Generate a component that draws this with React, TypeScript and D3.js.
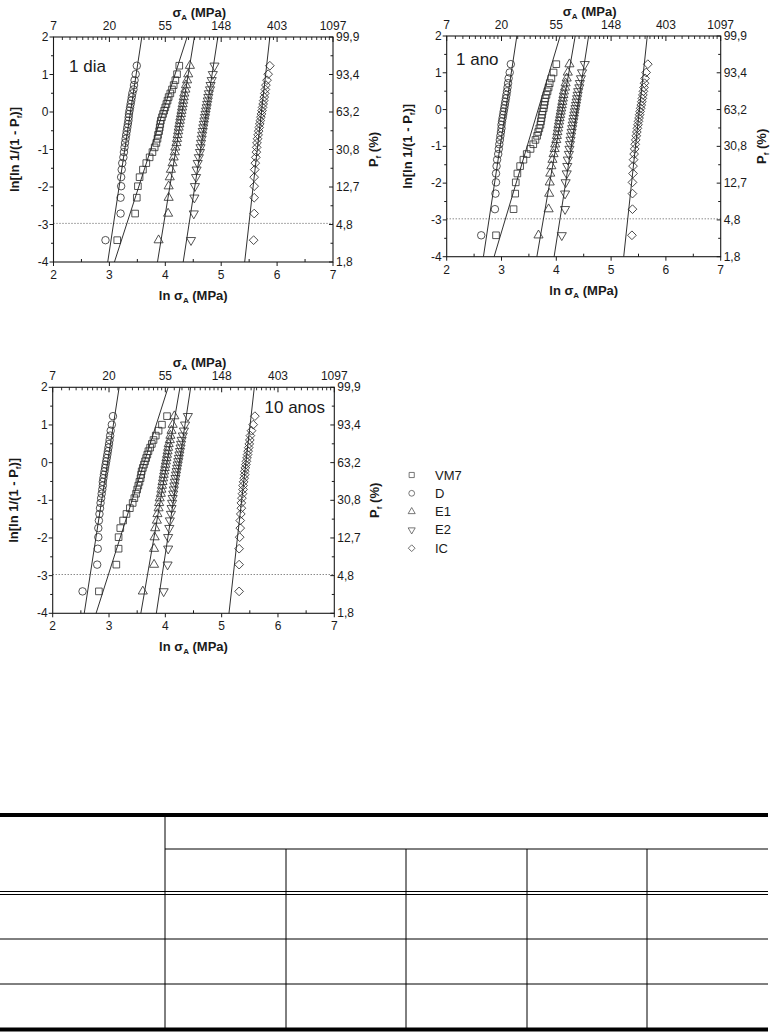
import React from 'react';
import * as d3 from 'd3';

// Weibull rank ordinates ln[ln 1/(1-Pf)] for the 30 specimens of each group
const Y_RANK = [-3.418, -2.708, -2.285, -1.979, -1.738, -1.537, -1.363, -1.209, -1.070, -0.943,
  -0.825, -0.714, -0.610, -0.510, -0.413, -0.320, -0.230, -0.140, -0.052, 0.035,
  0.123, 0.213, 0.304, 0.398, 0.496, 0.601, 0.717, 0.848, 1.008, 1.234];

const SERIES = ['VM7', 'D', 'E1', 'E2', 'IC'];
const X_TICKS = [2, 3, 4, 5, 6, 7];
const Y_TICKS = [-4, -3, -2, -1, 0, 1, 2];
const SIGMA_LABELS = ['7', '20', '55', '148', '403', '1097'];
const PF_LABELS = ['1,8', '4,8', '12,7', '30,8', '63,2', '93,4', '99,9'];
const THRESHOLD_Y = -2.97;

// ---- 1 dia : ln(sigma_A) per specimen
const DIA_VM7 = [3.14, 3.46, 3.49, 3.51, 3.54, 3.60, 3.66, 3.72, 3.77, 3.81, 3.84, 3.86, 3.87, 3.89, 3.90, 3.91, 3.92, 3.94, 3.96, 3.98, 4.00, 4.02, 4.04, 4.06, 4.09, 4.12, 4.15, 4.18, 4.21, 4.25];
const DIA_D = [2.93, 3.20, 3.20, 3.21, 3.21, 3.22, 3.23, 3.25, 3.26, 3.27, 3.28, 3.29, 3.30, 3.31, 3.32, 3.33, 3.34, 3.345, 3.35, 3.36, 3.37, 3.38, 3.39, 3.40, 3.41, 3.43, 3.44, 3.45, 3.47, 3.49];
const DIA_E1 = [3.88, 4.05, 4.06, 4.06, 4.08, 4.10, 4.13, 4.15, 4.17, 4.18, 4.20, 4.21, 4.22, 4.23, 4.24, 4.25, 4.26, 4.27, 4.28, 4.29, 4.30, 4.31, 4.32, 4.33, 4.34, 4.36, 4.37, 4.39, 4.41, 4.44];
const DIA_E2 = [4.46, 4.51, 4.52, 4.53, 4.55, 4.56, 4.58, 4.60, 4.62, 4.63, 4.64, 4.65, 4.66, 4.67, 4.68, 4.69, 4.70, 4.71, 4.72, 4.73, 4.74, 4.75, 4.76, 4.77, 4.78, 4.80, 4.81, 4.83, 4.85, 4.88];
const DIA_IC = [5.58, 5.59, 5.59, 5.59, 5.59, 5.60, 5.61, 5.62, 5.63, 5.635, 5.64, 5.65, 5.66, 5.67, 5.68, 5.69, 5.70, 5.71, 5.72, 5.73, 5.74, 5.75, 5.76, 5.77, 5.78, 5.79, 5.80, 5.82, 5.84, 5.87];
// fitted lines: ln(sigma) at y=-4 and at y=2
const DIA_LINES = [[3.09, 4.39], [2.97, 3.58], [3.86, 4.52], [4.32, 4.94], [5.42, 5.87]];

// ---- 1 ano
const ANO_VM7 = [2.90, 3.22, 3.25, 3.26, 3.29, 3.34, 3.40, 3.46, 3.53, 3.58, 3.62, 3.65, 3.67, 3.69, 3.71, 3.72, 3.73, 3.74, 3.75, 3.77, 3.78, 3.79, 3.80, 3.82, 3.84, 3.86, 3.88, 3.91, 3.95, 4.00];
const ANO_D = [2.63, 2.88, 2.89, 2.90, 2.90, 2.91, 2.92, 2.94, 2.95, 2.96, 2.97, 2.98, 2.99, 3.00, 3.00, 3.01, 3.02, 3.03, 3.04, 3.05, 3.06, 3.07, 3.08, 3.09, 3.10, 3.11, 3.12, 3.13, 3.15, 3.17];
const ANO_E1 = [3.675, 3.86, 3.87, 3.88, 3.89, 3.91, 3.93, 3.95, 3.97, 3.98, 4.00, 4.01, 4.02, 4.03, 4.04, 4.05, 4.06, 4.07, 4.08, 4.09, 4.10, 4.11, 4.12, 4.13, 4.14, 4.16, 4.17, 4.19, 4.21, 4.24];
const ANO_E2 = [4.10, 4.16, 4.16, 4.17, 4.19, 4.20, 4.21, 4.23, 4.24, 4.25, 4.26, 4.27, 4.28, 4.29, 4.30, 4.31, 4.32, 4.33, 4.34, 4.35, 4.36, 4.37, 4.38, 4.39, 4.40, 4.42, 4.43, 4.45, 4.47, 4.52];
const ANO_IC = [5.38, 5.39, 5.39, 5.39, 5.40, 5.40, 5.41, 5.42, 5.43, 5.44, 5.45, 5.46, 5.47, 5.48, 5.49, 5.50, 5.51, 5.52, 5.53, 5.54, 5.55, 5.56, 5.57, 5.58, 5.59, 5.60, 5.61, 5.62, 5.64, 5.67];
const ANO_LINES = [[2.865, 4.07], [2.67, 3.28], [3.645, 4.345], [3.96, 4.59], [5.23, 5.66]];

// ---- 10 anos
const ANOS10_VM7 = [2.82, 3.13, 3.17, 3.17, 3.20, 3.25, 3.31, 3.37, 3.42, 3.45, 3.48, 3.50, 3.52, 3.54, 3.56, 3.57, 3.58, 3.60, 3.62, 3.64, 3.66, 3.68, 3.70, 3.73, 3.76, 3.79, 3.83, 3.88, 3.94, 4.03];
const ANOS10_D = [2.53, 2.79, 2.80, 2.81, 2.81, 2.82, 2.83, 2.84, 2.85, 2.86, 2.87, 2.88, 2.89, 2.89, 2.90, 2.91, 2.92, 2.93, 2.94, 2.95, 2.96, 2.97, 2.98, 2.99, 3.00, 3.01, 3.02, 3.03, 3.05, 3.07];
const ANOS10_E1 = [3.60, 3.80, 3.80, 3.81, 3.82, 3.85, 3.86, 3.88, 3.89, 3.90, 3.92, 3.93, 3.94, 3.95, 3.96, 3.97, 3.98, 3.99, 4.00, 4.01, 4.02, 4.03, 4.04, 4.05, 4.06, 4.08, 4.09, 4.11, 4.13, 4.16];
const ANOS10_E2 = [3.97, 4.04, 4.05, 4.05, 4.07, 4.08, 4.10, 4.11, 4.12, 4.13, 4.14, 4.15, 4.16, 4.17, 4.18, 4.19, 4.20, 4.21, 4.22, 4.23, 4.24, 4.25, 4.26, 4.27, 4.28, 4.29, 4.31, 4.33, 4.35, 4.40];
const ANOS10_IC = [5.31, 5.31, 5.31, 5.32, 5.33, 5.33, 5.34, 5.35, 5.35, 5.36, 5.37, 5.38, 5.38, 5.39, 5.40, 5.41, 5.41, 5.42, 5.43, 5.44, 5.45, 5.46, 5.47, 5.48, 5.49, 5.50, 5.51, 5.53, 5.56, 5.59];
const ANOS10_LINES = [[2.77, 4.05], [2.56, 3.18], [3.565, 4.26], [3.84, 4.45], [5.13, 5.58]];

const FONT = "'Liberation Sans', Arial, Helvetica, sans-serif";
const INK = '#1a1a1a';

type Panel = {
  label: string; data: number[][]; lines: number[][];
  left: number; right: number; top: number; bottom: number;
  labelX: number; labelY: number; labelAnchor: 'start' | 'end';
};

const PANELS: Panel[] = [
  { label: '1 dia', data: [DIA_VM7, DIA_D, DIA_E1, DIA_E2, DIA_IC], lines: DIA_LINES,
    left: 53.5, right: 333, top: 37, bottom: 262, labelX: 69, labelY: 72, labelAnchor: 'start' },
  { label: '1 ano', data: [ANO_VM7, ANO_D, ANO_E1, ANO_E2, ANO_IC], lines: ANO_LINES,
    left: 446.7, right: 720.7, top: 36, bottom: 256.7, labelX: 456, labelY: 65, labelAnchor: 'start' },
  { label: '10 anos', data: [ANOS10_VM7, ANOS10_D, ANOS10_E1, ANOS10_E2, ANOS10_IC], lines: ANOS10_LINES,
    left: 52.7, right: 334.3, top: 387.3, bottom: 613.3, labelX: 325, labelY: 413, labelAnchor: 'end' },
];

const SYMBOLS = [d3.symbolSquare, d3.symbolCircle, d3.symbolTriangle, d3.symbolTriangle, d3.symbolSquare];
const ROTATE = [0, 0, 0, 180, 45];
const SIZES = [44, 44, 36, 36, 38];

function marker(i: number, scale = 1) {
  return d3.symbol().type(SYMBOLS[i]).size(SIZES[i] * scale)() as string;
}

function PanelView({ p }: { p: Panel }) {
  const x = d3.scaleLinear().domain([2, 7]).range([p.left, p.right]);
  const y = d3.scaleLinear().domain([-4, 2]).range([p.bottom, p.top]);
  const line = d3.line<[number, number]>().x(d => x(d[0])).y(d => y(d[1]));
  const minorY = d3.range(-3.5, 2, 1);
  const minorX = d3.range(2.5, 7, 1);
  const topMinor: number[] = [];
  for (let n = 2; n < 7; n++) {
    const a = Math.exp(n), b = Math.exp(n + 1);
    for (let k = 1; k < 10; k++) topMinor.push(Math.log(a + (k * (b - a)) / 10));
  }
  const midY = (p.top + p.bottom) / 2;
  const midX = (p.left + p.right) / 2;
  return (
    <g fontFamily={FONT} fill={INK}>
      {/* threshold */}
      <line x1={p.left} x2={p.right} y1={y(THRESHOLD_Y)} y2={y(THRESHOLD_Y)}
        stroke="#555" strokeWidth={1} strokeDasharray="1,2" />
      {/* fitted lines */}
      {p.lines.map((l, i) => (
        <path key={'l' + i} d={line([[l[0], -4], [l[1], 2]]) as string} stroke={INK} strokeWidth={0.9} fill="none" />
      ))}
      {/* points */}
      {p.data.map((arr, si) => arr.map((v, k) => (
        <path key={si + '-' + k} d={marker(si)}
          transform={`translate(${x(v)},${y(Y_RANK[k])}) rotate(${ROTATE[si]})`}
          fill="none" stroke="#2a2a2a" strokeWidth={0.8} />
      )))}
      {/* frame */}
      <rect x={p.left} y={p.top} width={p.right - p.left} height={p.bottom - p.top} fill="none" stroke={INK} strokeWidth={1.1} />
      {/* bottom axis */}
      {X_TICKS.map(t => (
        <g key={'bx' + t}>
          <line x1={x(t)} x2={x(t)} y1={p.bottom} y2={p.bottom + 4} stroke={INK} />
          <text x={x(t)} y={p.bottom + 17} textAnchor="middle" fontSize={12}>{t}</text>
        </g>
      ))}
      {minorX.map(t => <line key={'bm' + t} x1={x(t)} x2={x(t)} y1={p.bottom} y2={p.bottom - 3} stroke={INK} />)}
      <text x={midX} y={p.bottom + 38} textAnchor="middle" fontSize={13} fontWeight="bold">
        ln σ<tspan dy={3} fontSize={8}>A</tspan><tspan dy={-3}> (MPa)</tspan>
      </text>
      {/* top axis */}
      {X_TICKS.map((t, i) => (
        <g key={'tx' + t}>
          <line x1={x(t)} x2={x(t)} y1={p.top} y2={p.top + 5} stroke={INK} />
          <text x={x(t)} y={p.top - 7.5} textAnchor="middle" fontSize={12}>{SIGMA_LABELS[i]}</text>
        </g>
      ))}
      {topMinor.map((t, i) => <line key={'tm' + i} x1={x(t)} x2={x(t)} y1={p.top} y2={p.top + 3} stroke={INK} strokeWidth={0.9} />)}
      <text x={midX + 6} y={p.top - 20} textAnchor="middle" fontSize={13} fontWeight="bold">
        σ<tspan dy={3} fontSize={8}>A</tspan><tspan dy={-3}> (MPa)</tspan>
      </text>
      {/* left axis */}
      {Y_TICKS.map(t => (
        <g key={'ly' + t}>
          <line x1={p.left - 4} x2={p.left} y1={y(t)} y2={y(t)} stroke={INK} />
          <text x={p.left - 5} y={y(t)} textAnchor="end" dominantBaseline="central" fontSize={12}>{t}</text>
        </g>
      ))}
      {minorY.map(t => <line key={'lm' + t} x1={p.left - 2.5} x2={p.left} y1={y(t)} y2={y(t)} stroke={INK} />)}
      <text transform={`translate(${p.left - 35},${midY}) rotate(-90)`} textAnchor="middle" fontSize={13} fontWeight="bold">
        ln[ln 1/(1 - P<tspan dy={3} fontSize={8}>f</tspan><tspan dy={-3}>)]</tspan>
      </text>
      {/* right axis */}
      {Y_TICKS.map((t, i) => (
        <g key={'ry' + t}>
          <line x1={p.right - 4} x2={p.right} y1={y(t)} y2={y(t)} stroke={INK} />
          <text x={p.right + 3} y={y(t)} dominantBaseline="central" fontSize={12}>{PF_LABELS[i]}</text>
        </g>
      ))}
      {minorY.map(t => <line key={'rm' + t} x1={p.right - 2.5} x2={p.right} y1={y(t)} y2={y(t)} stroke={INK} />)}
      <text transform={`translate(${p.right + 45},${midY}) rotate(-90)`} textAnchor="middle" fontSize={13} fontWeight="bold">
        P<tspan dy={3} fontSize={8}>f</tspan><tspan dy={-3}> (%)</tspan>
      </text>
      {/* panel label */}
      <text x={p.labelX} y={p.labelY} textAnchor={p.labelAnchor} fontSize={17}>{p.label}</text>
    </g>
  );
}

const LEGEND_X = 411.7;
const LEGEND_Y0 = 475;
const LEGEND_STEP = 18.3;

// empty table layout
const TABLE_COLS = [165, 286, 406, 527, 647];
const TABLE_LEFT = 0, TABLE_RIGHT = 768;
const TABLE_TOP = 815, TABLE_SUB = 849, TABLE_DBL = 891.5, TABLE_ROWS = [939, 984], TABLE_BOTTOM = 1029.5;

export default function App() {
  return (
    <svg width={776} height={1032} style={{ position: 'absolute', left: 0, top: 0, background: '#fff' }}>
      <rect width={776} height={1032} fill="#fff" />
      {PANELS.map(p => <PanelView key={p.label} p={p} />)}
      {/* legend */}
      <g fontFamily={FONT}>
        {SERIES.map((s, i) => (
          <g key={s} transform={`translate(0,${LEGEND_Y0 + i * LEGEND_STEP})`}>
            <path d={marker(i, 0.6)} transform={`translate(${LEGEND_X},0) rotate(${ROTATE[i]})`} fill="none" stroke="#555" strokeWidth={0.8} />
            <text x={435} y={0} dominantBaseline="central" fontSize={13} fill={INK}>{s}</text>
          </g>
        ))}
      </g>
      {/* table */}
      <g stroke="#000">
        <line x1={TABLE_LEFT} x2={TABLE_RIGHT} y1={TABLE_TOP} y2={TABLE_TOP} strokeWidth={4} />
        <line x1={TABLE_COLS[0]} x2={TABLE_RIGHT} y1={TABLE_SUB} y2={TABLE_SUB} strokeWidth={1} />
        <line x1={TABLE_LEFT} x2={TABLE_RIGHT} y1={TABLE_DBL} y2={TABLE_DBL} strokeWidth={1} />
        <line x1={TABLE_LEFT} x2={TABLE_RIGHT} y1={TABLE_DBL + 3} y2={TABLE_DBL + 3} strokeWidth={1} />
        {TABLE_ROWS.map(r => <line key={r} x1={TABLE_LEFT} x2={TABLE_RIGHT} y1={r} y2={r} strokeWidth={1} />)}
        <line x1={TABLE_LEFT} x2={TABLE_RIGHT} y1={TABLE_BOTTOM} y2={TABLE_BOTTOM} strokeWidth={4} />
        <line x1={TABLE_COLS[0]} x2={TABLE_COLS[0]} y1={TABLE_TOP} y2={TABLE_BOTTOM} strokeWidth={1} />
        {TABLE_COLS.slice(1).map(c => <line key={c} x1={c} x2={c} y1={TABLE_SUB} y2={TABLE_BOTTOM} strokeWidth={1} />)}
      </g>
    </svg>
  );
}
